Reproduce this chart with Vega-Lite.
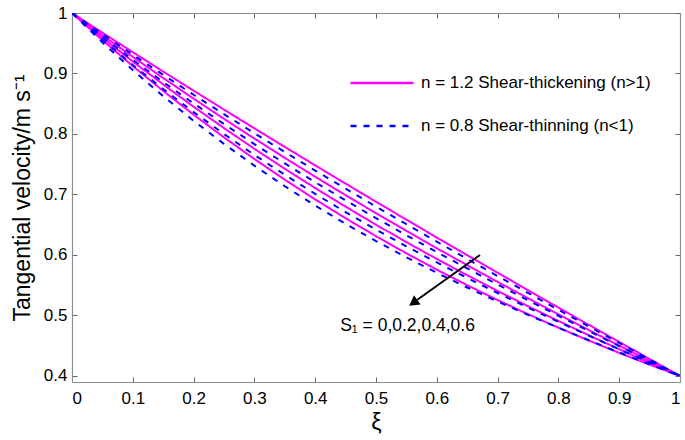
{
  "$schema": "https://vega.github.io/schema/vega-lite/v6.json",
  "width": 608,
  "height": 369,
  "autosize": {"type": "none"},
  "padding": {"left": 72, "top": 13, "right": 5, "bottom": 58},
  "config": {
    "view": {"stroke": null},
    "font": "Liberation Sans",
    "axis": {
      "grid": false,
      "domainColor": "#8c8c8c",
      "domainWidth": 1.2,
      "tickColor": "#666666",
      "tickSize": -5,
      "labelFontSize": 17,
      "labelColor": "#000000",
      "titleFontSize": 23,
      "titleFontWeight": "normal",
      "titleColor": "#000000"
    }
  },
  "resolve": {"axis": {"x": "independent", "y": "independent"}},
  "datasets": {
    "curves": [
      {"xi": 0, "m1": 1, "m2": 1, "m3": 1, "m4": 1, "b1": 1, "b2": 1, "b3": 1, "b4": 1},
      {"xi": 0.05, "m1": 0.9674, "m2": 0.9633, "m3": 0.9592, "m4": 0.9551, "b1": 0.9652, "b2": 0.9606, "b3": 0.956, "b4": 0.9514},
      {"xi": 0.1, "m1": 0.9352, "m2": 0.9275, "m3": 0.9198, "m4": 0.9122, "b1": 0.9311, "b2": 0.9226, "b3": 0.9141, "b4": 0.9056},
      {"xi": 0.15, "m1": 0.9032, "m2": 0.8925, "m3": 0.8818, "m4": 0.8711, "b1": 0.8977, "b2": 0.8859, "b3": 0.8742, "b4": 0.8625},
      {"xi": 0.2, "m1": 0.8716, "m2": 0.8584, "m3": 0.8451, "m4": 0.8319, "b1": 0.8649, "b2": 0.8505, "b3": 0.8362, "b4": 0.8218},
      {"xi": 0.25, "m1": 0.8403, "m2": 0.825, "m3": 0.8097, "m4": 0.7944, "b1": 0.8327, "b2": 0.8164, "b3": 0.8, "b4": 0.7836},
      {"xi": 0.3, "m1": 0.8093, "m2": 0.7924, "m3": 0.7755, "m4": 0.7586, "b1": 0.8012, "b2": 0.7833, "b3": 0.7654, "b4": 0.7476},
      {"xi": 0.35, "m1": 0.7786, "m2": 0.7605, "m3": 0.7424, "m4": 0.7244, "b1": 0.7702, "b2": 0.7513, "b3": 0.7325, "b4": 0.7136},
      {"xi": 0.4, "m1": 0.7481, "m2": 0.7293, "m3": 0.7106, "m4": 0.6918, "b1": 0.7396, "b2": 0.7203, "b3": 0.701, "b4": 0.6816},
      {"xi": 0.45, "m1": 0.7179, "m2": 0.6988, "m3": 0.6798, "m4": 0.6607, "b1": 0.7096, "b2": 0.6902, "b3": 0.6709, "b4": 0.6515},
      {"xi": 0.5, "m1": 0.688, "m2": 0.669, "m3": 0.65, "m4": 0.631, "b1": 0.68, "b2": 0.661, "b3": 0.642, "b4": 0.623},
      {"xi": 0.55, "m1": 0.6583, "m2": 0.6398, "m3": 0.6212, "m4": 0.6027, "b1": 0.6508, "b2": 0.6325, "b3": 0.6143, "b4": 0.5961},
      {"xi": 0.6, "m1": 0.6288, "m2": 0.6111, "m3": 0.5934, "m4": 0.5757, "b1": 0.622, "b2": 0.6048, "b3": 0.5877, "b4": 0.5705},
      {"xi": 0.65, "m1": 0.5996, "m2": 0.5831, "m3": 0.5665, "m4": 0.55, "b1": 0.5934, "b2": 0.5777, "b3": 0.562, "b4": 0.5462},
      {"xi": 0.7, "m1": 0.5705, "m2": 0.5555, "m3": 0.5405, "m4": 0.5255, "b1": 0.5652, "b2": 0.5512, "b3": 0.5371, "b4": 0.5231},
      {"xi": 0.75, "m1": 0.5417, "m2": 0.5285, "m3": 0.5153, "m4": 0.5021, "b1": 0.5372, "b2": 0.5251, "b3": 0.513, "b4": 0.5009},
      {"xi": 0.8, "m1": 0.513, "m2": 0.5019, "m3": 0.4909, "m4": 0.4798, "b1": 0.5095, "b2": 0.4995, "b3": 0.4896, "b4": 0.4796},
      {"xi": 0.85, "m1": 0.4845, "m2": 0.4758, "m3": 0.4672, "m4": 0.4585, "b1": 0.4819, "b2": 0.4743, "b3": 0.4666, "b4": 0.459},
      {"xi": 0.9, "m1": 0.4562, "m2": 0.4502, "m3": 0.4442, "m4": 0.4381, "b1": 0.4545, "b2": 0.4493, "b3": 0.4441, "b4": 0.4389},
      {"xi": 0.95, "m1": 0.428, "m2": 0.4249, "m3": 0.4218, "m4": 0.4187, "b1": 0.4272, "b2": 0.4246, "b3": 0.422, "b4": 0.4193},
      {"xi": 1, "m1": 0.4, "m2": 0.4, "m3": 0.4, "m4": 0.4, "b1": 0.4, "b2": 0.4, "b3": 0.4, "b4": 0.4}
    ],
    "arrow": [{"x": 0.671, "y": 0.6, "x2": 0.568, "y2": 0.526}],
    "head": [{"x": 0.5635, "y": 0.5225}],
    "note": [{"x": 0.441, "y": 0.483, "text": "S₁ = 0,0.2,0.4,0.6"}]
  },
  "layer": [
    {
      "data": {"name": "curves"},
      "transform": [{"fold": ["m1", "m2", "m3", "m4"], "as": ["s", "v"]}],
      "mark": {"type": "line", "strokeWidth": 2, "clip": true},
      "encoding": {
        "x": {"field": "xi", "type": "quantitative", "scale": {"domain": [0, 1], "nice": false},
          "axis": {"orient": "bottom", "values": [0, 0.1, 0.2, 0.3, 0.4, 0.5, 0.6, 0.7, 0.8, 0.9, 1], "format": "~g", "title": "ξ", "labelPadding": 13, "titlePadding": 5}},
        "y": {"field": "v", "type": "quantitative", "scale": {"domain": [0.39, 1], "nice": false, "zero": false},
          "axis": {"orient": "left", "values": [0.4, 0.5, 0.6, 0.7, 0.8, 0.9, 1], "format": "~g", "title": "Tangential velocity/m s⁻¹", "labelPadding": 10, "titlePadding": 9}},
        "detail": {"field": "s"},
        "color": {"datum": "n = 1.2 Shear-thickening (n>1)", "type": "nominal",
          "scale": {"domain": ["n = 1.2 Shear-thickening (n>1)", "n = 0.8 Shear-thinning (n<1)"], "range": ["#ff00ff", "#0000ff"]},
          "legend": {"orient": "none", "legendX": 277, "legendY": 37, "title": null, "symbolType": "stroke", "symbolSize": 3969, "symbolStrokeWidth": 2.5, "labelFontSize": 17, "labelOffset": 6, "labelLimit": 400, "rowPadding": 2}},
        "strokeDash": {"datum": "n = 1.2 Shear-thickening (n>1)", "type": "nominal",
          "scale": {"domain": ["n = 1.2 Shear-thickening (n>1)", "n = 0.8 Shear-thinning (n<1)"], "range": [[1, 0], [6, 7]]},
          "legend": {"orient": "none", "legendX": 277, "legendY": 37, "title": null, "symbolType": "stroke", "symbolSize": 3969, "symbolStrokeWidth": 2.5, "labelFontSize": 17, "labelOffset": 6, "labelLimit": 400, "rowPadding": 2}}
      }
    },
    {
      "data": {"name": "curves"},
      "transform": [{"fold": ["b1", "b2", "b3", "b4"], "as": ["s", "v"]}],
      "mark": {"type": "line", "strokeWidth": 2, "clip": true},
      "encoding": {
        "x": {"field": "xi", "type": "quantitative", "axis": null},
        "y": {"field": "v", "type": "quantitative", "axis": null},
        "detail": {"field": "s"},
        "color": {"datum": "n = 0.8 Shear-thinning (n<1)", "type": "nominal"},
        "strokeDash": {"datum": "n = 0.8 Shear-thinning (n<1)", "type": "nominal"}
      }
    },
    {
      "data": {"name": "arrow"},
      "mark": {"type": "rule", "color": "#000000", "strokeWidth": 2},
      "encoding": {
        "x": {"field": "x", "type": "quantitative", "axis": {"orient": "top", "values": [0, 0.1, 0.2, 0.3, 0.4, 0.5, 0.6, 0.7, 0.8, 0.9, 1], "labels": false, "title": null}},
        "y": {"field": "y", "type": "quantitative", "axis": {"orient": "right", "values": [0.4, 0.5, 0.6, 0.7, 0.8, 0.9, 1], "labels": false, "title": null}},
        "x2": {"field": "x2"},
        "y2": {"field": "y2"}
      }
    },
    {
      "data": {"name": "head"},
      "mark": {"type": "point", "shape": "triangle", "filled": true, "color": "#000000", "opacity": 1, "size": 130, "angle": 234.5},
      "encoding": {
        "x": {"field": "x", "type": "quantitative", "axis": null},
        "y": {"field": "y", "type": "quantitative", "axis": null}
      }
    },
    {
      "data": {"name": "note"},
      "mark": {"type": "text", "align": "left", "baseline": "middle", "fontSize": 17.5, "font": "Liberation Sans", "color": "#000000"},
      "encoding": {
        "x": {"field": "x", "type": "quantitative", "axis": null},
        "y": {"field": "y", "type": "quantitative", "axis": null},
        "text": {"field": "text"}
      }
    }
  ]
}
